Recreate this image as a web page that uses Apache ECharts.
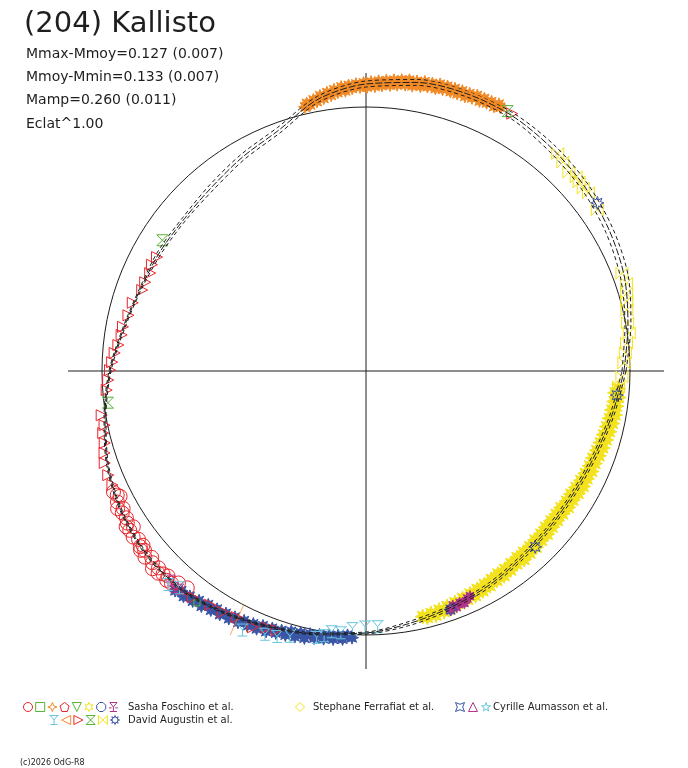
<!DOCTYPE html>
<html><head><meta charset="utf-8">
<script src="https://cdn.jsdelivr.net/npm/echarts@6/dist/echarts.min.js"></script>
<style>html,body{margin:0;padding:0;background:#fff}#c{width:688px;height:768px}</style>
</head><body><div id="c"></div>
<script>
// ---------- texts ----------
const titleText = '(204) Kallisto';
const statLines = ['Mmax-Mmoy=0.127 (0.007)', 'Mmoy-Mmin=0.133 (0.007)', 'Mamp=0.260 (0.011)', 'Eclat^1.00'];
const copyrightText = '(c)2026 OdG-R8';

// ---------- scale (radius units, angle in degrees counter-clockwise from east) ----------
const refRadius = 264;      // reference circle (mean magnitude)
const crossRadius = 298;    // extent of the axis cross

// ---------- model lightcurve (three solutions) ----------
const curveAngles = [0,10,20,30,40,50,60,70,80,90,100,110,120,130,140,150,160,170,180,190,200,210,220,230,240,250,260,270,280,290,300,310,320,330,340,350,360];
const curveMid   = [258,266,275,281,286,290,294,295,293,287,276,256,247,240,237,238,240,246,256,265,275,282,286,286,280,273,267,262,256,251,247,243,241,241,244,250,258];
const curveOuter = [260,269,279,285,290,294,297,298,296,290,279,259,250,243,239,240,241,247,257,266,276,283,287,287,281,274,268,263,258,253,249,245,243,243,246,252,260];
const curveInner = [256,263,271,277,282,286,291,292,290,284,273,253,244,237,235,236,239,245,255,264,274,281,285,285,279,272,266,261,254,249,245,241,239,239,242,248,256];

// ---------- observations [radius, angle] ----------
const orangeStars = [[271,103],[274,102.5],[272,101.8],[276,101],[274,100.3],[279,99.5],[276,98.8],[281,98],[278,97.2],[283,96.5],[280,95.8],[285,95],[281,94.2],[286,93.5],[283,92.8],[287,92],[284,91.2],[288,90.5],[284,89.8],[289,89],[285,88.2],[290,87.5],[286,86.8],[291,86],[287,85.2],[292,84.5],[288,83.8],[293,83],[289,82.2],[294,81.5],[289,80.8],[294,80],[290,79.2],[295,78.5],[291,77.8],[295,77],[291,76.2],[296,75.5],[292,74.8],[296,74],[292,73.2],[296,72.5],[292,71.8],[296,71],[292,70.2],[296,69.5],[293,68.8],[297,68],[293,67.2],[297,66.5],[294,65.8],[297,65],[294,64.2],[298,63.5],[296,63]];
const yellowBowties = [[290,48.6],[287,46.7],[284,44.4],[286,42.7],[285,41.6],[284,40.1],[285,38.7],[282,34.9],[274,20.9],[275,18.6],[272,16.6],[270,15],[268,13.2],[266,10.4],[266,8.2],[262,6.1],[260,4],[258,1.8],[256,358.7],[253,356.4],[252,354.1]];
const yellowStars = [[253,356],[250,355],[254,354],[250,353],[253,352],[249,351],[253,350],[248,349],[252,348],[247,347],[251,346],[246,345],[250,344],[245,343],[249,342],[244,341],[248,340],[243,339],[247,338],[243,337],[247,336],[242,335],[246,334],[241,333],[246,332],[240,331],[245,330],[239,329],[244,328],[239,327],[244,326],[238,325],[243,324],[238,323],[243,322],[238,321],[243,320],[238,319],[244,318],[239,317],[244,316],[239,315],[245,314],[240,313],[245,312],[240,311],[246,310],[240,309],[245,308],[241,307],[246,306],[242,305],[247,304],[242,303],[247,302],[243,301],[248,300],[244,299],[249,298],[245,297],[250,296],[246,295],[250,294],[247,293],[251,292],[248,291],[252,290],[249,289],[253,288],[250,287],[254,286],[251,285],[254,284],[252,283]];
const blueStars8 = [[286,36],[252,354.5],[244,313.9],[253,289.5]];
const purplePoints = [[249,294],[252,293],[250,292],[253,291],[250,290.3],[254,289.5],[251,292.6],[248,294.8]];
const blueBand = [[291,229],[287,230],[290,231],[286,232],[288,233],[284,234],[287,235],[282,236],[285,237],[281,238],[284,239],[280,240],[283,241],[279,242],[282,243],[278,244],[281,245],[277,246],[280,247],[275,248],[279,249],[274,250],[277,251],[273,252],[276,253],[271,254],[275,255],[270,256],[274,257],[269,258],[272,259],[268,260],[271,261],[267,262],[270,263],[266,264],[269,265],[265,266],[267,267]];
const cyanSymbols = [[291,227.2],[286,229.3],[287,244.5],[282,249],[280,251.5],[276,254],[271,259.5],[268,261],[263,262.5],[263,264.5],[258,267],[256,269.8],[256,272.6]];
const redCircles = [[280,205.6],[278,206.5],[276,207],[281,207.8],[284,209],[279,209.5],[282,210.2],[281,211.5],[283,212.5],[286,213],[280,213.8],[285,214],[286,215.5],[283,216.5],[286,217.9],[283,218],[288,218.5],[285,219],[289,220.1],[284,221],[287,221.9],[291,222.8],[286,223.5],[290,224.2],[287,225],[285,226],[289,226.4],[288,227.5],[283,228.5],[281,230.5]];
const redTriangles = [[296,60.4],[238,151.4],[239,153.6],[237,155.6],[238,158.1],[238,160.1],[243,163.7],[244,166.8],[247,169.7],[247,171.6],[249,174],[252,175.9],[254,178],[256,179.8],[258,182],[260,184.2],[268,189.5],[267,191.7],[270,193.3],[271,195.4],[274,197.4],[277,199.4],[278,202],[278,204.2],[285,232.6],[281,236.3],[280,239.3],[278,242.3],[280,246.2],[275,248.9],[274,251]];
const greenHourglass = [[242,147.3],[260,187],[296,61.4]];
const greenSquares = [[287,233.9]];
const magentaSymbols = [[286,227],[289,228.5],[287,229.5]];
const orangeBar = [[280,242.6]];

// ---------- legend ----------
const legendSasha = 'Sasha Foschino et al.';
const legendStephane = 'Stephane Ferrafiat et al.';
const legendCyrille = 'Cyrille Aumasson et al.';
const legendDavid = 'David Augustin et al.';

// ---------- symbols & colours ----------
const P = {
  circle: 'M5,0A5,5,0,1,1,4.99,0Z',
  square: 'M0,0L10,0L10,10L0,10Z',
  star4: 'M5,0L6.4,3.6L10,5L6.4,6.4L5,10L3.6,6.4L0,5L3.6,3.6Z',
  pentagon: 'M5,0L10,3.8L8.1,10L1.9,10L0,3.8Z',
  triDown: 'M0,0L10,0L5,10Z',
  star6: 'M5,0L6.4,2.6L9.3,2.5L7.8,5L9.3,7.5L6.4,7.4L5,10L3.6,7.4L0.7,7.5L2.2,5L0.7,2.5L3.6,2.6Z',
  octagon: 'M3,0L7,0L10,3L10,7L7,10L3,10L0,7L0,3Z',
  fork: 'M1,0L5,5L9,0ZM5,5L5,10M1,10L9,10M0,6L3,6M7,6L10,6',
  cyanY: 'M0,0L10,0M1,0L5,5L9,0M5,5L5,10M1,10L9,10',
  triLeft: 'M10,0L10,10L0,5Z',
  triRight: 'M0,0L0,10L10,5Z',
  hourglass: 'M0,0L10,0L0,10L10,10Z',
  bowtie: 'M0,0L0,10L10,0L10,10Z',
  star8: 'M10,5L7.4,6L8.54,8.54L6,7.4L5,10L4,7.4L1.46,8.54L2.6,6L0,5L2.6,4L1.46,1.46L4,2.6L5,0L6,2.6L8.54,1.46L7.4,4Z',
  diamond: 'M5,0L10,5L5,10L0,5Z',
  star4sq: 'M0,0L5,2L10,0L8,5L10,10L5,8L0,10L2,5Z',
  triUp: 'M5,0L10,10L0,10Z',
  star5: 'M5,0L6.2,3.6L10,3.6L6.9,5.9L8.1,9.5L5,7.3L1.9,9.5L3.1,5.9L0,3.6L3.8,3.6Z',
  bar: 'M10,0L0,10'
};
const C = {
  red: '#e8262c', green: '#56b436', orange: '#f28a26', yellow: '#f3e21e',
  blue: '#3a55a6', purple: '#b0338c', cyan: '#68c6de', ink: '#1e1e1e'
};
const FONT = 'DejaVu Sans';

function scatter(name, data, sym, color, size, z, filled) {
  return {
    type: 'scatter', coordinateSystem: 'polar', name: name, data: data,
    symbol: 'path://' + P[sym], symbolSize: size, z: z || 3,
    itemStyle: { color: filled ? color : 'rgba(0,0,0,0)', borderColor: color, borderWidth: 1, opacity: 1 },
    silent: true, animation: false, emphasis: { disabled: true }
  };
}
function curve(name, radii, dash) {
  return {
    type: 'line', coordinateSystem: 'polar', name: name,
    data: curveAngles.map((a, i) => [radii[i], a]),
    showSymbol: false, smooth: 0.3, z: 6, silent: true, animation: false,
    lineStyle: { color: C.ink, width: 1, type: dash }
  };
}

// legend graphics: convert the simple M/L/Z symbol strings into polygons / polylines
function legSym(sym, color, cx, cy) {
  const s = 9, x0 = cx - s / 2, y0 = cy - s / 2;
  const style = { fill: 'none', stroke: color, lineWidth: 1 };
  if (sym === 'circle') {
    return [{ type: 'circle', silent: true, shape: { cx: cx, cy: cy, r: s / 2 }, style: style }];
  }
  const out = [];
  const parts = P[sym].match(/[MLZ][^MLZ]*/g);
  let pts = null;
  const flush = (closed) => {
    if (pts && pts.length > 1) {
      out.push({ type: closed ? 'polygon' : 'polyline', silent: true,
        shape: { points: pts.map(p => [x0 + p[0] * s / 10, y0 + p[1] * s / 10]) }, style: style });
    }
    pts = null;
  };
  parts.forEach(part => {
    const cmd = part[0];
    const nums = part.slice(1).split(',').filter(v => v !== '').map(Number);
    if (cmd === 'M') { flush(false); pts = [[nums[0], nums[1]]]; }
    else if (cmd === 'L') { pts.push([nums[0], nums[1]]); }
    else if (cmd === 'Z') { flush(true); }
  });
  flush(false);
  return out;
}
function legText(t, x, y, size) {
  return { type: 'text', silent: true, x: x, y: y,
    style: { text: t, fontFamily: FONT, fontSize: size || 10, fill: C.ink, verticalAlign: 'middle' } };
}
const row1 = 707, row2 = 720;
const sashaSyms = [['circle',C.red],['square',C.green],['star4',C.orange],['pentagon',C.red],['triDown',C.green],['star6',C.yellow],['octagon',C.blue],['fork',C.purple]];
const davidSyms = [['cyanY',C.cyan],['triLeft',C.orange],['triRight',C.red],['hourglass',C.green],['bowtie',C.yellow],['star8',C.blue]];
const cyrilleSyms = [['star4sq',C.blue],['triUp',C.purple],['star5',C.cyan]];
let graphics = [];
sashaSyms.forEach((s, i) => { graphics = graphics.concat(legSym(s[0], s[1], 28 + i * 12.2, row1)); });
davidSyms.forEach((s, i) => { graphics = graphics.concat(legSym(s[0], s[1], 54 + i * 12.2, row2)); });
graphics = graphics.concat(legSym('diamond', C.yellow, 300, row1));
cyrilleSyms.forEach((s, i) => { graphics = graphics.concat(legSym(s[0], s[1], 460 + i * 13, row1)); });
graphics.push(legText(legendSasha, 128, row1));
graphics.push(legText(legendDavid, 128, row2));
graphics.push(legText(legendStephane, 313, row1));
graphics.push(legText(legendCyrille, 493, row1));
graphics.push(legText(copyrightText, 20, 763, 8));

const chart = echarts.init(document.getElementById('c'), null, { renderer: 'canvas' });
chart.setOption({
  backgroundColor: '#ffffff',
  animation: false,
  title: [
    { text: titleText, left: 24, top: 10, padding: 0,
      textStyle: { fontFamily: FONT, fontSize: 29, fontWeight: 'normal', color: C.ink } },
    { text: statLines.join('\n'), left: 26, top: 42.5, padding: 0,
      textStyle: { fontFamily: FONT, fontSize: 14, fontWeight: 'normal', color: C.ink, lineHeight: 23.3 } }
  ],
  polar: { center: [366, 371], radius: crossRadius },
  angleAxis: {
    type: 'value', min: 0, max: 360, interval: 90, startAngle: 0, clockwise: false,
    axisLine: { show: false }, axisTick: { show: false }, axisLabel: { show: false },
    splitLine: { show: true, lineStyle: { color: C.ink, width: 1 } }
  },
  radiusAxis: {
    type: 'value', min: 0, max: crossRadius, interval: refRadius,
    axisLine: { show: false }, axisTick: { show: false }, axisLabel: { show: false },
    splitLine: { show: true, lineStyle: { color: ['rgba(0,0,0,0)', C.ink, 'rgba(0,0,0,0)'], width: 1 } }
  },
  graphic: graphics,
  series: [
    scatter('orange', orangeStars, 'star8', C.orange, 13, 3, true),
    scatter('yellowBand', yellowStars, 'star8', C.yellow, 15, 3, true),
    scatter('yellowBowtie', yellowBowties, 'bowtie', C.yellow, 12),
    scatter('blueBand', blueBand, 'star8', C.blue, 13, 3, true),
    scatter('redCircle', redCircles, 'circle', C.red, 14),
    scatter('cyan', cyanSymbols, 'cyanY', C.cyan, 12, 4),
    scatter('redTri', redTriangles, 'triRight', C.red, 11),
    scatter('greenHour', greenHourglass, 'hourglass', C.green, 11),
    scatter('greenSq', greenSquares, 'square', C.green, 6),
    scatter('magenta', magentaSymbols, 'fork', C.purple, 10),
    scatter('purple', purplePoints, 'star8', C.purple, 11, 4, true),
    scatter('blueStar', blueStars8, 'star8', C.blue, 13, 5),
    { type: 'scatter', coordinateSystem: 'polar', name: 'orangeBar', data: orangeBar,
      symbol: 'path://' + P.bar, symbolSize: [14, 31], z: 4, silent: true,
      itemStyle: { color: 'rgba(0,0,0,0)', borderColor: C.orange, borderWidth: 1 } },
    curve('model1', curveMid, [7, 2]),
    curve('model2', curveOuter, [4, 3]),
    curve('model3', curveInner, [4, 3])
  ]
});
</script></body></html>
